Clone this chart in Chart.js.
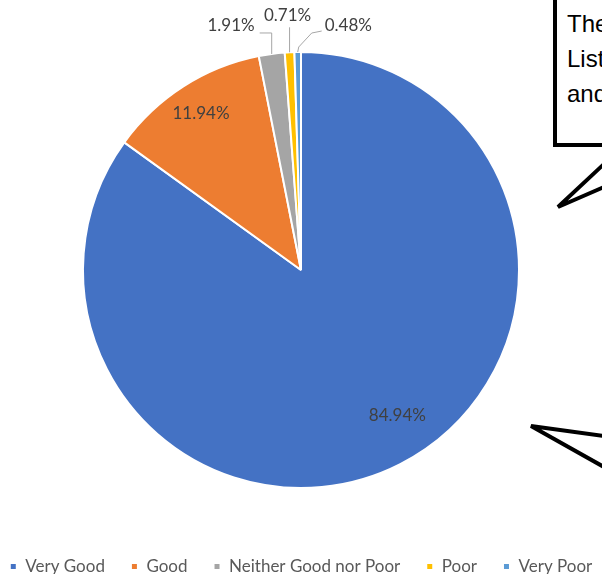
<!DOCTYPE html>
<html lang="en">
<head>
  <meta charset="UTF-8">
  <title>Rating pie</title>
  <script src="https://cdn.jsdelivr.net/npm/chart.js"></script>
  <style>
    html, body { margin: 0; padding: 0; background: #fff; overflow: hidden; }
    .wrap { position: relative; width: 602px; height: 574px; overflow: hidden; }
    canvas { display: block; position: absolute; left: -29px; top: 0; }
    .callout {
      position: absolute; left: 553px; top: -4px; width: 80px; height: 137px;
      border: 4px solid #000; background: #fff;
      font-family: "Liberation Sans", Arial, sans-serif; font-size: 24px; line-height: 35px;
      padding: 6px 0 0 10px; box-sizing: content-box; color: #000; white-space: nowrap;
    }
    svg.pointers { position: absolute; left: 0; top: 0; pointer-events: none; }
  </style>
</head>
<body>
<div class="wrap">
  <canvas id="pie" width="660" height="585"></canvas>
  <div class="callout">The<br>List<br>and</div>
  <svg class="pointers" width="602" height="574">
    <polyline points="604,164 558,207 604,187" fill="#fff" stroke="#000" stroke-width="4" stroke-linejoin="miter"/>
    <polyline points="604,436 531,426 604,467" fill="#fff" stroke="#000" stroke-width="4" stroke-linejoin="miter"/>
  </svg>
</div>

<script>
  // data
  const categories = ["Very Good", "Good", "Neither Good nor Poor", "Poor", "Very Poor"];
  const shares = [84.94, 11.94, 1.91, 0.71, 0.48];
  const sliceColors = ["#4472C4", "#ED7D31", "#A5A5A5", "#FFC000", "#5B9BD5"];

  // label placement: inside labels (radius fraction + nudge) or leader lines for thin slices
  const labelStyle = [
    { inside: 0.8, nudge: [17, -10] },
    { inside: 0.85, nudge: [0, 0] },
    { path: [[0, -21], [-12, -21]], align: "right", text: [-5, -7] },
    { path: [[0, -25]], align: "center", text: [-2, -12] },
    { path: [[1, -5], [14, -19], [24, -21]], align: "left", text: [3, -6] }
  ];

  const sliceLabels = {
    id: "sliceLabels",
    afterDatasetsDraw(chart) {
      const ctx = chart.ctx;
      const meta = chart.getDatasetMeta(0);
      ctx.save();
      ctx.font = "17px Lato, 'Noto Sans', sans-serif";
      ctx.fillStyle = "#404040";
      ctx.textBaseline = "middle";
      meta.data.forEach((arc, i) => {
        const p = arc.getProps(["x", "y", "startAngle", "endAngle", "outerRadius"], true);
        const mid = (p.startAngle + p.endAngle) / 2;
        const st = labelStyle[i];
        const txt = shares[i].toFixed(2) + "%";
        if (st.inside) {
          const r = p.outerRadius * st.inside;
          ctx.textAlign = "center";
          ctx.fillText(txt, p.x + r * Math.cos(mid) + st.nudge[0], p.y + r * Math.sin(mid) + st.nudge[1]);
          return;
        }
        const ex = p.x + p.outerRadius * Math.cos(mid);
        const ey = p.y + p.outerRadius * Math.sin(mid);
        ctx.strokeStyle = "#A6A6A6";
        ctx.lineWidth = 1;
        ctx.beginPath();
        ctx.moveTo(ex, ey);
        let last = [ex, ey];
        st.path.forEach(([dx, dy]) => {
          last = [ex + dx, ey + dy];
          ctx.lineTo(last[0], last[1]);
        });
        ctx.stroke();
        ctx.textAlign = st.align;
        ctx.fillText(txt, last[0] + st.text[0], last[1] + st.text[1]);
      });
      ctx.restore();
    }
  };

  new Chart(document.getElementById("pie"), {
    type: "pie",
    data: {
      labels: categories,
      datasets: [{
        data: shares,
        backgroundColor: sliceColors,
        borderColor: "#fff",
        borderWidth: 2
      }]
    },
    options: {
      responsive: false,
      animation: false,
      radius: 218,
      layout: { padding: { top: 52, bottom: 0, left: 0, right: 0 } },
      plugins: {
        tooltip: { enabled: false },
        legend: {
          display: true,
          position: "bottom",
          title: {
            display: true,
            text: " ",
            font: { size: 10, lineHeight: 1 },
            padding: { top: 34, bottom: 0 }
          },
          labels: {
            boxWidth: 7,
            boxHeight: 7,
            padding: 26,
            color: "#595959",
            font: { family: "Lato, 'Noto Sans', sans-serif", size: 17 }
          }
        }
      }
    },
    plugins: [sliceLabels]
  });
</script>
</body>
</html>
